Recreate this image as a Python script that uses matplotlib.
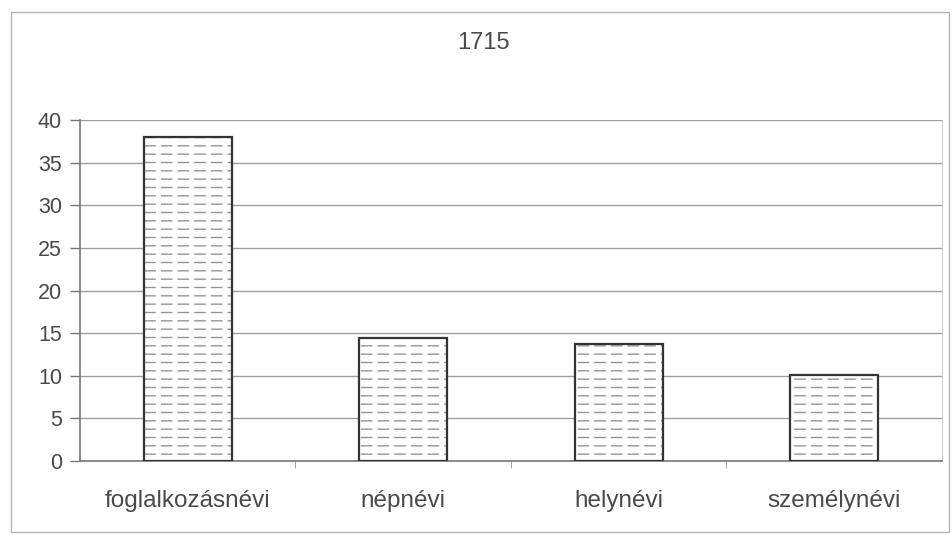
import matplotlib.pyplot as plt
import numpy as np
from matplotlib.patches import Rectangle

# adatok
kategoriak = ['foglalkozásnévi', 'népnévi', 'helynévi', 'személynévi']
ertekek = [38, 14.4, 13.7, 10.1]
cim = '1715'
y_ticks = [0, 5, 10, 15, 20, 25, 30, 35, 40]

plt.rcParams['font.family'] = ['Liberation Sans', 'DejaVu Sans']
szoveg = '#4a4a4a'

fig = plt.figure(figsize=(9.52, 5.34), dpi=100)
ax = fig.add_axes([0.084, 0.1367, 0.9055, 0.638])

# keret az egesz abra korul
fig.patches.append(Rectangle((0.012, 0.003), 0.985, 0.975, transform=fig.transFigure,
                             fill=False, edgecolor='#b5b5b5', linewidth=1.0))

x = np.arange(len(kategoriak))

# szaggatott vonalas kitoltes: szurke vizszintes vonalak, feher fuggoleges "vagasokkal"
plt.rcParams['hatch.linewidth'] = 1.0
ax.bar(x, ertekek, width=0.41, color='white', edgecolor='#959595', hatch='--',
       linewidth=0, zorder=3)
plt.rcParams['hatch.linewidth'] = 3.6
ax.bar(x, ertekek, width=0.41, color='none', edgecolor='white', hatch='|',
       linewidth=0, zorder=4)
ax.bar(x, ertekek, width=0.41, color='none', edgecolor='#333333', linewidth=1.6,
       zorder=5)

ax.set_ylim(0, 40)
ax.set_xlim(-0.5, len(kategoriak) - 0.5)
ax.set_yticks(y_ticks)
ax.set_yticklabels([str(t) for t in y_ticks], fontsize=15.5, color=szoveg)
ax.set_xticks(x)
ax.set_xticklabels(kategoriak, fontsize=17.5, color=szoveg)
ax.tick_params(axis='x', length=0, pad=21)
ax.set_xticks(np.arange(0.5, len(kategoriak) - 0.5, 1), minor=True)
ax.tick_params(axis='x', which='minor', length=5, color='#999999', direction='out')
ax.tick_params(axis='y', length=7, color='#777777', width=1, pad=6)

ax.yaxis.grid(True, color='#a0a0a0', linewidth=1.0, zorder=0)
ax.set_axisbelow(True)

ax.spines['top'].set_visible(False)
ax.spines['right'].set_color('#cfcfcf')
ax.spines['left'].set_color('#777777')
ax.spines['bottom'].set_color('#777777')
ax.spines['left'].set_linewidth(1.2)
ax.spines['bottom'].set_linewidth(1.2)

fig.text(0.508, 0.92, cim, ha='center', va='center', fontsize=17, color=szoveg)

fig.savefig('out.png', dpi=100)
